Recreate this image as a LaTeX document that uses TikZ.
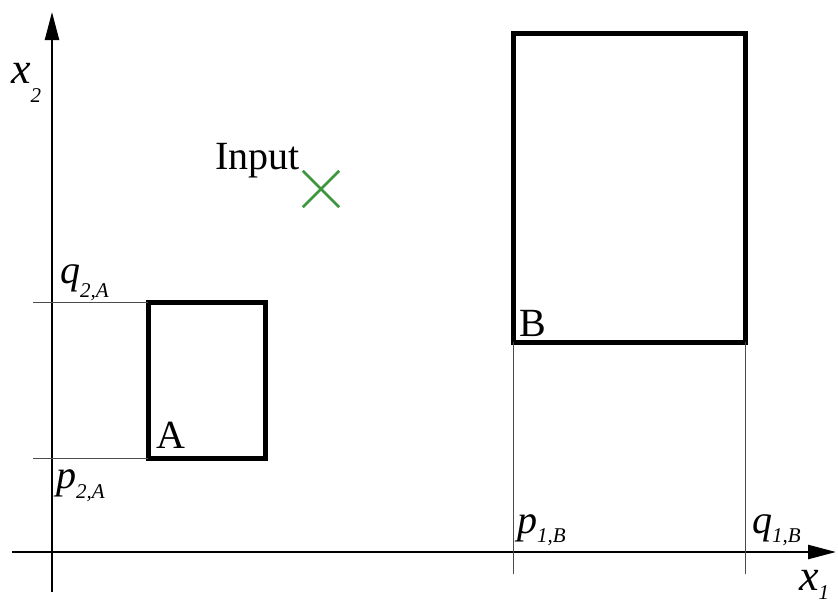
\documentclass[tikz,border=0pt]{standalone}
\usepackage{fontspec}
\setmainfont{Liberation Serif}
\usetikzlibrary{arrows.meta}
\newcommand\axlab[4]{{\fontsize{#1}{#1}\selectfont\itshape #2}\raisebox{-#4pt}{\fontsize{21}{21}\selectfont\itshape #3}}
\begin{document}
\begin{tikzpicture}[x=1pt,y=-1pt,
  axis/.style={line width=2.4pt,-{Triangle[length=28pt,width=14pt]}},
  box/.style={draw,line width=5pt,inner sep=0pt,outer sep=0pt},
  guide/.style={line width=1pt,draw=black!70},
  lbl/.style={font=\fontsize{40}{40}\selectfont,inner sep=0pt,anchor=base west},
  sub/.style={inner sep=0pt,anchor=base west}]
\useasboundingbox (0,0) rectangle (838,603);
% axes
\coordinate (xs) at (12,552);
\coordinate (xe) at (836,552);
\coordinate (ys) at (52,592);
\coordinate (ye) at (52,12);
\draw[axis] (xs) -- (xe);
\draw[axis] (ys) -- (ye);
% boxes
\node[box,minimum width=117pt,minimum height=156pt] (A) at (206.5,380) {};
\node[box,minimum width=232pt,minimum height=309pt] (B) at (629,187.5) {};
% guide lines
\coordinate (qa) at (33,302);
\coordinate (pa) at (33,458);
\coordinate (pb) at (513,574);
\coordinate (qb) at (745,574);
\draw[guide] (A.north west) -- (qa);
\draw[guide] (A.south west) -- (pa);
\draw[guide] (B.south west) -- (pb);
\draw[guide] (B.south east) -- (qb);
% labels
\node[lbl] (la) at (156,448) {A};
\node[lbl] (lb) at (519,336) {B};
\node[sub] (x2) at (11,83) {\axlab{44}{x}{2}{19}};
\node[sub] (q2a) at (60,283) {\axlab{40}{q}{2,A}{14}};
\node[sub] (p2a) at (56,488) {\axlab{40}{p}{2,A}{10}};
\node[sub] (p1b) at (517,533) {\axlab{40}{p}{1,B}{9}};
\node[sub] (q1b) at (752,533) {\axlab{40}{q}{1,B}{9}};
\node[sub] (x1) at (799,590) {\axlab{44}{x}{1}{9}};
\node[lbl] (inp) at (215,169) {Input};
% input cross
\node[inner sep=0pt,minimum size=36pt] (cross) at (321,189) {};
\draw[line width=2.5pt,draw={rgb,255:red,60;green,150;blue,60}]
  (cross.north west) -- (cross.south east)
  (cross.north east) -- (cross.south west);
\end{tikzpicture}
\end{document}
